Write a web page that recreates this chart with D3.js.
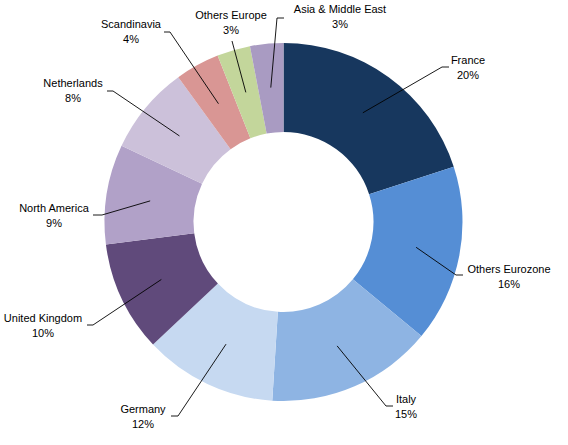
<!DOCTYPE html>
<html>
<head>
<meta charset="utf-8">
<script src="https://cdn.jsdelivr.net/npm/d3@7"></script>
<style>
html,body{margin:0;padding:0;background:#fff;}
svg{display:block;}
text{font-family:"Liberation Sans",Arial,sans-serif;font-size:11px;fill:#000;}
</style>
</head>
<body>
<svg id="chart" width="568" height="445"></svg>
<script>
const categories = ["France","Others Eurozone","Italy","Germany","United Kingdom","North America","Netherlands","Scandinavia","Others Europe","Asia & Middle East"];
const values = [20,16,15,12,10,9,8,4,3,3];
const colors = ["#17375E","#558ED5","#8EB4E3","#C6D9F1","#604A7B","#B1A1C8","#CCC1DA","#D99694","#C3D69B","#A99BC2"];
// label layout: elbow point of leader line, end of horizontal tick, text centre x, first baseline y
const labelLayout = [
  {ex:442, ey:67, hx:449, tx:468, ty:64},
  {ex:456, ey:275, hx:463, tx:509, ty:273},
  {ex:386, ey:406, hx:393, tx:406, ty:403},
  {ex:178, ey:416, hx:171, tx:143, ty:413},
  {ex:93, ey:325, hx:87, tx:43, ty:322},
  {ex:102, ey:215, hx:93, tx:54, ty:212},
  {ex:113, ey:91, hx:107, tx:73, ty:87},
  {ex:170, ey:32, hx:164, tx:131, ty:28},
  {ex:232, ey:41, hx:232, tx:231, ty:19},
  {ex:277, ey:18, hx:284, tx:340, ty:13}
];

const cx = 283.5, cy = 222, outerR = 179, innerR = 90, lineR = 135;
const svg = d3.select("#chart");
const g = svg.append("g").attr("transform", `translate(${cx},${cy})`);

const data = categories.map((c,i)=>({name:c, value:values[i], color:colors[i], layout:labelLayout[i]}));
const pie = d3.pie().value(d=>d.value).sort(null);
const arcs = pie(data);
const arc = d3.arc().innerRadius(innerR).outerRadius(outerR);
const midArc = d3.arc().innerRadius(lineR).outerRadius(lineR);

g.selectAll("path.slice").data(arcs).enter().append("path")
  .attr("class","slice")
  .attr("d", arc)
  .attr("fill", d=>d.data.color);

const total = d3.sum(values);
const lbl = svg.append("g");
arcs.forEach(a=>{
  const L = a.data.layout;
  const c = midArc.centroid(a);
  const sx = cx + c[0], sy = cy + c[1];
  lbl.append("polyline")
    .attr("points", `${sx},${sy} ${L.ex},${L.ey} ${L.hx},${L.ey}`)
    .attr("fill","none").attr("stroke","#000").attr("stroke-width",0.9);
  const t = lbl.append("text").attr("text-anchor","middle");
  t.append("tspan").attr("x", L.tx).attr("y", L.ty).text(a.data.name);
  t.append("tspan").attr("x", L.tx).attr("y", L.ty + 14.5).text(Math.round(a.data.value/total*100) + "%");
});
</script>
</body>
</html>
